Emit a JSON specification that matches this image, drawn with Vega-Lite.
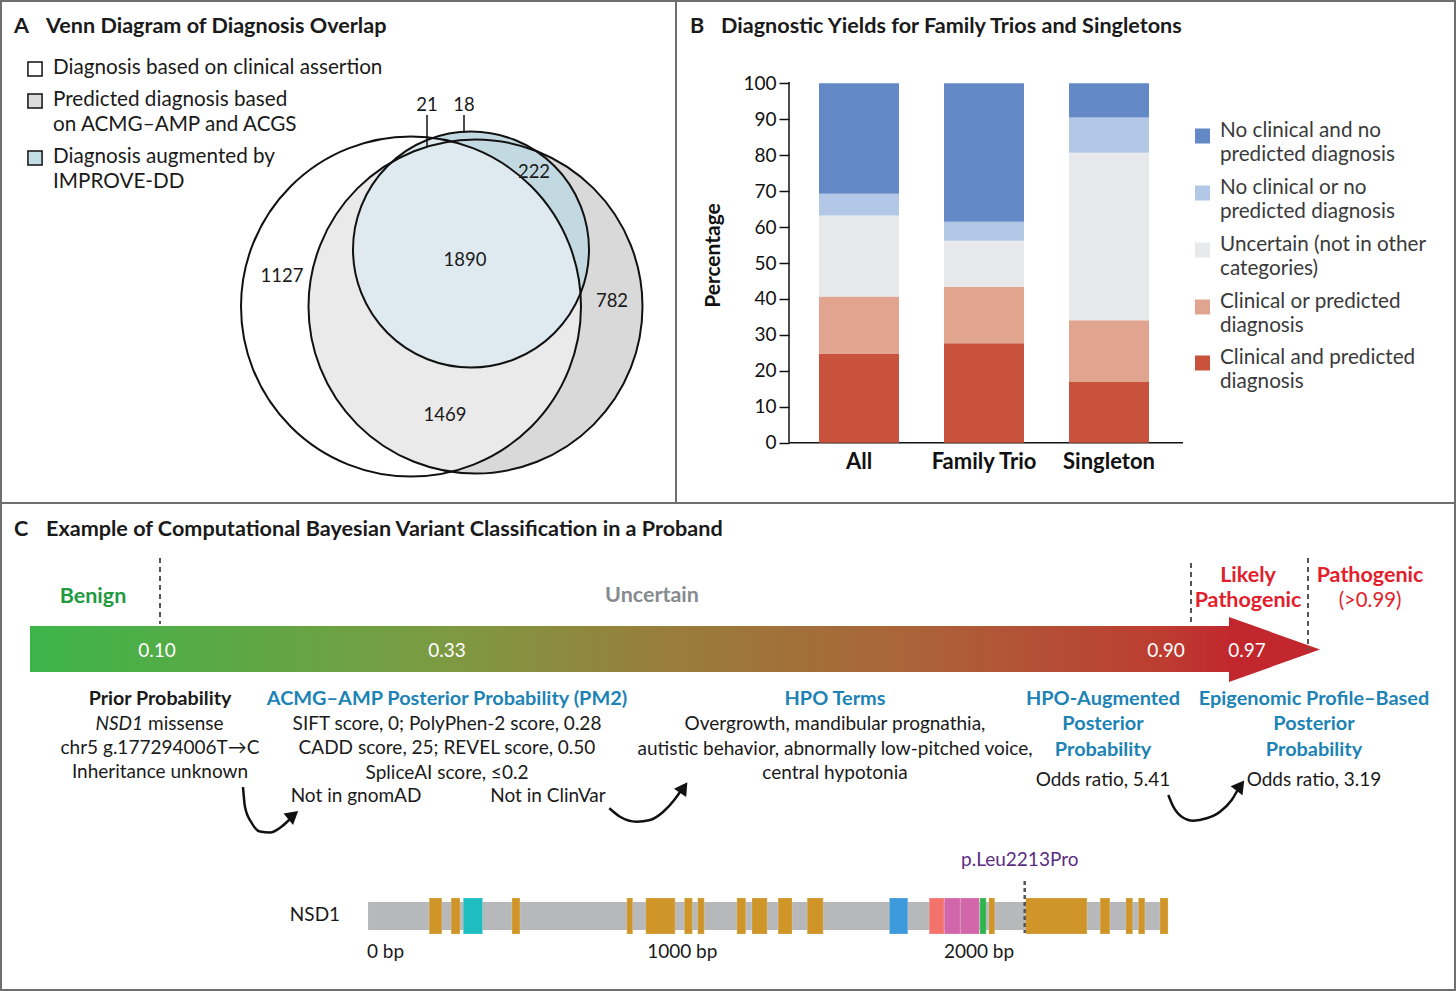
{
  "$schema": "https://vega.github.io/schema/vega-lite/v6.json",
  "width": 1456,
  "height": 991,
  "padding": 0,
  "autosize": {"type": "none"},
  "background": "white",
  "config": {"font": "Lato", "view": {"stroke": null}},
  "resolve": {"scale": {"x": "independent", "y": "independent", "color": "independent"}},
  "layer": [
    {
      "encoding": {
        "x": {"field": "x", "type": "quantitative", "scale": {"domain": [0, 1456], "nice": false, "zero": false}, "axis": null},
        "y": {"field": "y", "type": "quantitative", "scale": {"domain": [0, 991], "nice": false, "zero": false, "reverse": true}, "axis": null}
      },
      "resolve": {"scale": {"color": "independent"}},
      "layer": [
        {
          "data": {"values": [
            {"x": 1, "y": 0, "x2": 1, "y2": 991},
            {"x": 1455, "y": 0, "x2": 1455, "y2": 991},
            {"x": 0, "y": 1, "x2": 1456, "y2": 1},
            {"x": 0, "y": 990, "x2": 1456, "y2": 990},
            {"x": 676, "y": 0, "x2": 676, "y2": 503},
            {"x": 0, "y": 503, "x2": 1456, "y2": 503}
          ]},
          "mark": {"type": "rule", "color": "#6e6e6e", "strokeWidth": 2},
          "encoding": {"x2": {"field": "x2"}, "y2": {"field": "y2"}}
        },
        {
          "data": {"values": [
            {"set": "Predicted", "x": 475.5, "y": 306.5, "r": 167},
            {"set": "IMPROVE-DD", "x": 471, "y": 249.5, "r": 118}
          ]},
          "mark": {"type": "point", "shape": "circle", "filled": true, "opacity": 1, "strokeWidth": 0},
          "encoding": {
            "size": {"field": "r", "type": "quantitative", "scale": {"type": "pow", "exponent": 2, "domain": [0, 200], "range": [0, 160000]}, "legend": null},
            "color": {"field": "set", "type": "nominal", "scale": {"domain": ["Predicted", "IMPROVE-DD"], "range": ["#d9d9d9", "#c3d9e2"]}, "legend": null}
          }
        },
        {
          "data": {"values": [{"set": "Clinical", "x": 411, "y": 306.5, "r": 170}]},
          "mark": {"type": "point", "shape": "circle", "filled": true, "color": "#ffffff", "opacity": 0.45, "strokeWidth": 0},
          "encoding": {
            "size": {"field": "r", "type": "quantitative", "scale": {"type": "pow", "exponent": 2, "domain": [0, 200], "range": [0, 160000]}, "legend": null}
          }
        },
        {
          "data": {"values": [
            {"set": "Clinical", "x": 411, "y": 306.5, "r": 170},
            {"set": "Predicted", "x": 475.5, "y": 306.5, "r": 167},
            {"set": "IMPROVE-DD", "x": 471, "y": 249.5, "r": 118}
          ]},
          "mark": {"type": "point", "shape": "circle", "filled": false, "color": "#111111", "opacity": 1, "strokeWidth": 2},
          "encoding": {
            "size": {"field": "r", "type": "quantitative", "scale": {"type": "pow", "exponent": 2, "domain": [0, 200], "range": [0, 160000]}, "legend": null}
          }
        },
        {
          "data": {"values": [
            {"x": 427, "y": 115, "y2": 146},
            {"x": 464, "y": 115, "y2": 133}
          ]},
          "mark": {"type": "rule", "color": "#111111", "strokeWidth": 1.5},
          "encoding": {"y2": {"field": "y2"}}
        },
        {
          "data": {"values": [
            {"t": "21", "x": 427, "y": 105},
            {"t": "18", "x": 464, "y": 105},
            {"t": "222", "x": 534, "y": 172},
            {"t": "1890", "x": 465, "y": 260},
            {"t": "1127", "x": 282, "y": 276},
            {"t": "782", "x": 612, "y": 301},
            {"t": "1469", "x": 445, "y": 415}
          ]},
          "mark": {"type": "text", "align": "center", "baseline": "middle", "fontSize": 18.5, "color": "#1a1a1a"},
          "encoding": {"text": {"field": "t"}}
        },
        {
          "data": {"values": [
            {"t": "A", "x": 14, "y": 27},
            {"t": "Venn Diagram of Diagnosis Overlap", "x": 46, "y": 27},
            {"t": "B", "x": 690, "y": 27},
            {"t": "Diagnostic Yields for Family Trios and Singletons", "x": 721, "y": 27},
            {"t": "C", "x": 14, "y": 530},
            {"t": "Example of Computational Bayesian Variant Classification in a Proband", "x": 46, "y": 530}
          ]},
          "mark": {"type": "text", "align": "left", "baseline": "middle", "fontSize": 21.6, "fontWeight": "bold", "color": "#1a1a1a"},
          "encoding": {"text": {"field": "t"}}
        },
        {
          "data": {"values": [
            {"set": "Clinical", "x": 35, "y": 69},
            {"set": "Predicted", "x": 35, "y": 101},
            {"set": "IMPROVE-DD", "x": 35, "y": 158}
          ]},
          "mark": {"type": "point", "shape": "square", "filled": true, "size": 200, "opacity": 1, "stroke": "#111111", "strokeWidth": 1.5},
          "encoding": {
            "color": {"field": "set", "type": "nominal", "scale": {"domain": ["Clinical", "Predicted", "IMPROVE-DD"], "range": ["#ffffff", "#dcdcdc", "#c4dee7"]}, "legend": null}
          }
        },
        {
          "data": {"values": [
            {"t": "Diagnosis based on clinical assertion", "x": 53, "y": 68},
            {"t": "Predicted diagnosis based", "x": 53, "y": 100},
            {"t": "on ACMG–AMP and ACGS", "x": 53, "y": 125},
            {"t": "Diagnosis augmented by", "x": 53, "y": 157},
            {"t": "IMPROVE-DD", "x": 53, "y": 182}
          ]},
          "mark": {"type": "text", "align": "left", "baseline": "middle", "fontSize": 20.7, "color": "#1a1a1a"},
          "encoding": {"text": {"field": "t"}}
        },
        {
          "data": {"values": [
            {"x": 789, "y": 82, "x2": 789, "y2": 442.7},
            {"x": 789, "y": 442.7, "x2": 1183, "y2": 442.7}
          ]},
          "mark": {"type": "rule", "color": "#111111", "strokeWidth": 1.5},
          "encoding": {"x2": {"field": "x2"}, "y2": {"field": "y2"}}
        },
        {
          "data": {"values": [
            {"cat": "No clinical and no predicted diagnosis", "x": 1202.5, "y": 136},
            {"cat": "No clinical or no predicted diagnosis", "x": 1202.5, "y": 193},
            {"cat": "Uncertain (not in other categories)", "x": 1202.5, "y": 250},
            {"cat": "Clinical or predicted diagnosis", "x": 1202.5, "y": 307},
            {"cat": "Clinical and predicted diagnosis", "x": 1202.5, "y": 363}
          ]},
          "mark": {"type": "point", "shape": "square", "filled": true, "size": 225, "opacity": 1, "strokeWidth": 0},
          "encoding": {
            "color": {"field": "cat", "type": "nominal", "scale": {
              "domain": ["No clinical and no predicted diagnosis", "No clinical or no predicted diagnosis", "Uncertain (not in other categories)", "Clinical or predicted diagnosis", "Clinical and predicted diagnosis"],
              "range": ["#6389c6", "#b3c7e6", "#e8e9eb", "#e0a48f", "#c8523b"]}, "legend": null}
          }
        },
        {
          "data": {"values": [
            {"t": "No clinical and no", "x": 1220, "y": 131},
            {"t": "predicted diagnosis", "x": 1220, "y": 155},
            {"t": "No clinical or no", "x": 1220, "y": 188},
            {"t": "predicted diagnosis", "x": 1220, "y": 212},
            {"t": "Uncertain (not in other", "x": 1220, "y": 245},
            {"t": "categories)", "x": 1220, "y": 269},
            {"t": "Clinical or predicted", "x": 1220, "y": 302},
            {"t": "diagnosis", "x": 1220, "y": 326},
            {"t": "Clinical and predicted", "x": 1220, "y": 358},
            {"t": "diagnosis", "x": 1220, "y": 382}
          ]},
          "mark": {"type": "text", "align": "left", "baseline": "middle", "fontSize": 20.7, "color": "#3a3a3a"},
          "encoding": {"text": {"field": "t"}}
        },
        {
          "data": {"values": [{"x": 30, "x2": 1230, "y": 626, "y2": 672}]},
          "mark": {"type": "rect", "fill": {
            "gradient": "linear", "x1": 0, "y1": 0, "x2": 1, "y2": 0,
            "stops": [
              {"offset": 0, "color": "#3cb54a"},
              {"offset": 0.105, "color": "#50ad47"},
              {"offset": 0.347, "color": "#7d9a42"},
              {"offset": 0.516, "color": "#977f3c"},
              {"offset": 0.725, "color": "#aa6539"},
              {"offset": 0.947, "color": "#bd3c31"},
              {"offset": 1, "color": "#c1282e"}
            ]}},
          "encoding": {"x2": {"field": "x2"}, "y2": {"field": "y2"}}
        },
        {
          "data": {"values": [
            {"x": 1229, "y": 617, "y2": 682},
            {"x": 1320, "y": 649.5, "y2": 649.5}
          ]},
          "mark": {"type": "area", "color": "#c1272d"},
          "encoding": {"y2": {"field": "y2"}}
        },
        {
          "data": {"values": [
            {"x": 160, "y": 558, "y2": 624},
            {"x": 1191, "y": 563, "y2": 624},
            {"x": 1308, "y": 558, "y2": 650}
          ]},
          "mark": {"type": "rule", "color": "#555555", "strokeWidth": 2, "strokeDash": [5, 4]},
          "encoding": {"y2": {"field": "y2"}}
        },
        {
          "data": {"values": [
            {"t": "0.10", "x": 157, "y": 651},
            {"t": "0.33", "x": 447, "y": 651},
            {"t": "0.90", "x": 1166, "y": 651},
            {"t": "0.97", "x": 1247, "y": 651}
          ]},
          "mark": {"type": "text", "align": "center", "baseline": "middle", "fontSize": 19, "color": "#ffffff"},
          "encoding": {"text": {"field": "t"}}
        },
        {
          "data": {"values": [
            {"t": "Benign", "cls": "benign", "x": 93, "y": 597},
            {"t": "Uncertain", "cls": "uncertain", "x": 652, "y": 596},
            {"t": "Likely", "cls": "pathogenic", "x": 1248, "y": 576},
            {"t": "Pathogenic", "cls": "pathogenic", "x": 1248, "y": 601},
            {"t": "Pathogenic", "cls": "pathogenic", "x": 1370, "y": 576}
          ]},
          "mark": {"type": "text", "align": "center", "baseline": "middle", "fontSize": 21.5, "fontWeight": "bold"},
          "encoding": {
            "text": {"field": "t"},
            "color": {"field": "cls", "type": "nominal", "scale": {"domain": ["benign", "uncertain", "pathogenic"], "range": ["#1f9a3e", "#868b90", "#e2202b"]}, "legend": null}
          }
        },
        {
          "data": {"values": [{"t": "(>0.99)", "x": 1370, "y": 601}]},
          "mark": {"type": "text", "align": "center", "baseline": "middle", "fontSize": 20.3, "color": "#e2202b"},
          "encoding": {"text": {"field": "t"}}
        },
        {
          "data": {"values": [{"t": "Prior Probability", "x": 160, "y": 699}]},
          "mark": {"type": "text", "align": "center", "baseline": "middle", "fontSize": 19.7, "fontWeight": "bold", "color": "#1a1a1a"},
          "encoding": {"text": {"field": "t"}}
        },
        {
          "data": {"values": [
            {"t": "ACMG–AMP Posterior Probability (PM2)", "x": 447, "y": 699},
            {"t": "HPO Terms", "x": 835, "y": 699},
            {"t": "HPO-Augmented", "x": 1103, "y": 699},
            {"t": "Posterior", "x": 1103, "y": 724},
            {"t": "Probability", "x": 1103, "y": 750},
            {"t": "Epigenomic Profile–Based", "x": 1314, "y": 699},
            {"t": "Posterior", "x": 1314, "y": 724},
            {"t": "Probability", "x": 1314, "y": 750}
          ]},
          "mark": {"type": "text", "align": "center", "baseline": "middle", "fontSize": 19.9, "fontWeight": "bold", "color": "#1d83b5"},
          "encoding": {"text": {"field": "t"}}
        },
        {
          "data": {"values": [{"t": "NSD1", "x": 143, "y": 724}]},
          "mark": {"type": "text", "align": "right", "baseline": "middle", "fontSize": 19, "fontStyle": "italic", "color": "#1a1a1a"},
          "encoding": {"text": {"field": "t"}}
        },
        {
          "data": {"values": [{"t": "missense", "x": 148, "y": 724}]},
          "mark": {"type": "text", "align": "left", "baseline": "middle", "fontSize": 19, "color": "#1a1a1a"},
          "encoding": {"text": {"field": "t"}}
        },
        {
          "data": {"values": [
            {"t": "chr5 g.177294006T→C", "x": 160, "y": 748},
            {"t": "Inheritance unknown", "x": 160, "y": 772},
            {"t": "SIFT score, 0; PolyPhen-2 score, 0.28", "x": 447, "y": 724},
            {"t": "CADD score, 25; REVEL score, 0.50", "x": 447, "y": 748},
            {"t": "SpliceAI score, ≤0.2", "x": 447, "y": 773},
            {"t": "Not in gnomAD", "x": 356, "y": 796},
            {"t": "Not in ClinVar", "x": 548, "y": 796},
            {"t": "Overgrowth, mandibular prognathia,", "x": 835, "y": 724},
            {"t": "autistic behavior, abnormally low-pitched voice,", "x": 835, "y": 749},
            {"t": "central hypotonia", "x": 835, "y": 773},
            {"t": "Odds ratio, 5.41", "x": 1103, "y": 780},
            {"t": "Odds ratio, 3.19", "x": 1314, "y": 780},
            {"t": "NSD1", "x": 315, "y": 915}
          ]},
          "mark": {"type": "text", "align": "center", "baseline": "middle", "fontSize": 19, "color": "#1a1a1a"},
          "encoding": {"text": {"field": "t"}}
        },
        {
          "data": {"values": [
            {"a": 1, "i": 1, "x": 243, "y": 787},
            {"a": 1, "i": 2, "x": 245, "y": 807},
            {"a": 1, "i": 3, "x": 251.7, "y": 823},
            {"a": 1, "i": 4, "x": 260, "y": 831.5},
            {"a": 1, "i": 5, "x": 270, "y": 832.5},
            {"a": 1, "i": 6, "x": 281.7, "y": 826.5},
            {"a": 1, "i": 7, "x": 291, "y": 818},
            {"a": 2, "i": 1, "x": 609.3, "y": 808.3},
            {"a": 2, "i": 2, "x": 620, "y": 816.7},
            {"a": 2, "i": 3, "x": 636.7, "y": 821.7},
            {"a": 2, "i": 4, "x": 650, "y": 820},
            {"a": 2, "i": 5, "x": 663.3, "y": 811.7},
            {"a": 2, "i": 6, "x": 675, "y": 799},
            {"a": 2, "i": 7, "x": 682, "y": 789},
            {"a": 3, "i": 1, "x": 1168.3, "y": 795},
            {"a": 3, "i": 2, "x": 1173.3, "y": 806.7},
            {"a": 3, "i": 3, "x": 1181.7, "y": 816.7},
            {"a": 3, "i": 4, "x": 1193.3, "y": 820.7},
            {"a": 3, "i": 5, "x": 1206.7, "y": 818.3},
            {"a": 3, "i": 6, "x": 1220, "y": 811.7},
            {"a": 3, "i": 7, "x": 1231.7, "y": 800},
            {"a": 3, "i": 8, "x": 1239, "y": 787.5}
          ]},
          "mark": {"type": "line", "color": "#111111", "strokeWidth": 2.5, "interpolate": "monotone"},
          "encoding": {"detail": {"field": "a", "type": "nominal"}, "order": {"field": "i", "type": "quantitative"}}
        },
        {
          "data": {"values": [
            {"x": 291.6, "y": 816.5, "angle": 50},
            {"x": 682.5, "y": 789.3, "angle": 34.5},
            {"x": 1239.1, "y": 787.3, "angle": 36.5}
          ]},
          "mark": {"type": "point", "shape": "triangle", "filled": true, "color": "#111111", "size": 220, "opacity": 1, "strokeWidth": 0},
          "encoding": {"angle": {"field": "angle", "type": "quantitative", "scale": null}}
        }
      ]
    },
    {
      "data": {"values": [
        {"group": "All", "cat": "Clinical and predicted diagnosis", "k": 1, "pct": 24.8},
        {"group": "All", "cat": "Clinical or predicted diagnosis", "k": 2, "pct": 15.9},
        {"group": "All", "cat": "Uncertain (not in other categories)", "k": 3, "pct": 22.5},
        {"group": "All", "cat": "No clinical or no predicted diagnosis", "k": 4, "pct": 6.1},
        {"group": "All", "cat": "No clinical and no predicted diagnosis", "k": 5, "pct": 30.7},
        {"group": "Family Trio", "cat": "Clinical and predicted diagnosis", "k": 1, "pct": 27.7},
        {"group": "Family Trio", "cat": "Clinical or predicted diagnosis", "k": 2, "pct": 15.6},
        {"group": "Family Trio", "cat": "Uncertain (not in other categories)", "k": 3, "pct": 12.9},
        {"group": "Family Trio", "cat": "No clinical or no predicted diagnosis", "k": 4, "pct": 5.3},
        {"group": "Family Trio", "cat": "No clinical and no predicted diagnosis", "k": 5, "pct": 38.5},
        {"group": "Singleton", "cat": "Clinical and predicted diagnosis", "k": 1, "pct": 16.9},
        {"group": "Singleton", "cat": "Clinical or predicted diagnosis", "k": 2, "pct": 17.2},
        {"group": "Singleton", "cat": "Uncertain (not in other categories)", "k": 3, "pct": 46.6},
        {"group": "Singleton", "cat": "No clinical or no predicted diagnosis", "k": 4, "pct": 9.8},
        {"group": "Singleton", "cat": "No clinical and no predicted diagnosis", "k": 5, "pct": 9.5}
      ]},
      "mark": {"type": "bar"},
      "encoding": {
        "x": {"field": "group", "type": "nominal", "sort": ["All", "Family Trio", "Singleton"],
          "scale": {"range": [819, 1149], "paddingInner": 0.36, "paddingOuter": 0},
          "axis": {"orient": "bottom", "offset": -548.3, "title": null, "ticks": false, "domain": false, "grid": false, "labelAngle": 0, "labelFontSize": 22, "labelFontWeight": "bold", "labelColor": "#111111", "labelPadding": 9}},
        "y": {"field": "pct", "type": "quantitative", "stack": "zero",
          "scale": {"domain": [-152.56, 123.18], "nice": false, "zero": false},
          "axis": {"orient": "left", "offset": -789, "values": [0, 10, 20, 30, 40, 50, 60, 70, 80, 90, 100], "domain": false, "grid": false, "tickSize": 10, "tickWidth": 1.5, "tickColor": "#111111", "labelFontSize": 19, "labelColor": "#111111", "labelPadding": 3,
            "title": "Percentage", "titleFontSize": 21, "titleFontWeight": "bold", "titleColor": "#111111", "titleX": -76, "titleY": 255, "titleAngle": -90, "titleAlign": "center", "titleBaseline": "middle"}},
        "color": {"field": "cat", "type": "nominal", "scale": {
          "domain": ["No clinical and no predicted diagnosis", "No clinical or no predicted diagnosis", "Uncertain (not in other categories)", "Clinical or predicted diagnosis", "Clinical and predicted diagnosis"],
          "range": ["#6389c6", "#b3c7e6", "#e8e9eb", "#e0a48f", "#c8523b"]}, "legend": null},
        "order": {"field": "k", "type": "quantitative"}
      }
    },
    {
      "encoding": {
        "x": {"field": "start", "type": "quantitative", "scale": {"domain": [-1240.2, 3666.4], "nice": false, "zero": false},
          "axis": {"orient": "bottom", "offset": -57, "values": [0, 1000, 2000], "labelExpr": "datum.value + ' bp'", "ticks": false, "domain": false, "grid": false, "labelFontSize": 19, "labelColor": "#1a1a1a", "labelPadding": 8, "labelOffset": 17, "labelFlush": false, "labelOverlap": false, "title": null}},
        "y": {"field": "y", "type": "quantitative", "scale": {"domain": [0, 991], "nice": false, "zero": false, "reverse": true}, "axis": null}
      },
      "resolve": {"scale": {"color": "independent"}},
      "layer": [
        {
          "data": {"values": [{"start": 0, "end": 2696, "y": 902, "y2": 930}]},
          "mark": {"type": "rect", "color": "#b7b8b9"},
          "encoding": {"x2": {"field": "end"}, "y2": {"field": "y2"}}
        },
        {
          "data": {"values": [
            {"start": 206, "end": 249, "type": "Compositional bias", "y": 898, "y2": 934},
            {"start": 280, "end": 310, "type": "Compositional bias", "y": 898, "y2": 934},
            {"start": 321, "end": 386, "type": "PWWP 1", "y": 898, "y2": 934},
            {"start": 485, "end": 512, "type": "Compositional bias", "y": 898, "y2": 934},
            {"start": 872, "end": 892, "type": "Compositional bias", "y": 898, "y2": 934},
            {"start": 936, "end": 1035, "type": "Compositional bias", "y": 898, "y2": 934},
            {"start": 1066, "end": 1093, "type": "Compositional bias", "y": 898, "y2": 934},
            {"start": 1111, "end": 1133, "type": "Compositional bias", "y": 898, "y2": 934},
            {"start": 1243, "end": 1273, "type": "Compositional bias", "y": 898, "y2": 934},
            {"start": 1294, "end": 1345, "type": "Compositional bias", "y": 898, "y2": 934},
            {"start": 1382, "end": 1429, "type": "Compositional bias", "y": 898, "y2": 934},
            {"start": 1480, "end": 1534, "type": "Compositional bias", "y": 898, "y2": 934},
            {"start": 1757, "end": 1819, "type": "PWWP 2", "y": 898, "y2": 934},
            {"start": 1891, "end": 1942, "type": "AWS", "y": 898, "y2": 934},
            {"start": 1942, "end": 1996, "type": "SET", "y": 898, "y2": 934},
            {"start": 1996, "end": 2060, "type": "SET", "y": 898, "y2": 934},
            {"start": 2062, "end": 2083, "type": "Post-SET", "y": 898, "y2": 934},
            {"start": 2092, "end": 2112, "type": "Compositional bias", "y": 898, "y2": 934},
            {"start": 2216, "end": 2423, "type": "Compositional bias", "y": 898, "y2": 934},
            {"start": 2467, "end": 2500, "type": "Compositional bias", "y": 898, "y2": 934},
            {"start": 2554, "end": 2577, "type": "Compositional bias", "y": 898, "y2": 934},
            {"start": 2596, "end": 2618, "type": "Compositional bias", "y": 898, "y2": 934},
            {"start": 2669, "end": 2696, "type": "Compositional bias", "y": 898, "y2": 934}
          ]},
          "mark": {"type": "rect", "stroke": "#ffffff", "strokeWidth": 0.4, "strokeOpacity": 0.5},
          "encoding": {
            "x2": {"field": "end"},
            "y2": {"field": "y2"},
            "color": {"field": "type", "type": "nominal", "scale": {"domain": ["Compositional bias", "PWWP 1", "PWWP 2", "AWS", "SET", "Post-SET"], "range": ["#cf9528", "#1fbec3", "#3d9bdb", "#f3736c", "#d266aa", "#2fb34c"]}, "legend": null}
          }
        },
        {
          "data": {"values": [{"start": 2213, "y": 881, "y2": 933}]},
          "mark": {"type": "rule", "color": "#555555", "strokeWidth": 2.5, "strokeDash": [4, 3]},
          "encoding": {"y2": {"field": "y2"}}
        },
        {
          "data": {"values": [{"start": 2213, "y": 860, "t": "p.Leu2213Pro"}]},
          "mark": {"type": "text", "align": "center", "baseline": "middle", "fontSize": 19, "dx": -5, "color": "#5a2d82"},
          "encoding": {"text": {"field": "t"}}
        }
      ]
    }
  ]
}
